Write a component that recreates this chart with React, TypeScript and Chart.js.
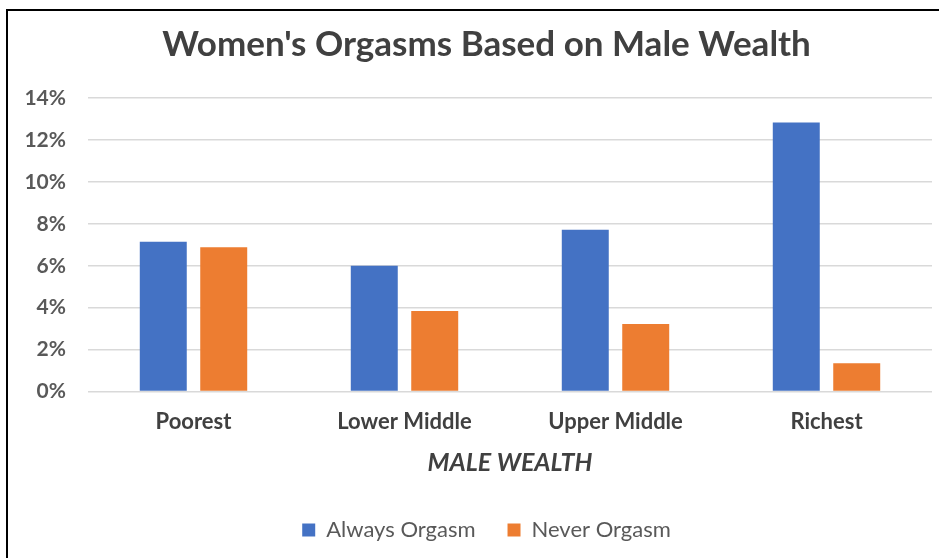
import React, { useEffect, useRef } from "react";
import { Chart, registerables } from "chart.js";

Chart.register(...registerables);

const categories = ["Poorest", "Lower Middle", "Upper Middle", "Richest"];
const alwaysOrgasm = [7.15, 6.0, 7.72, 12.83];
const neverOrgasm = [6.88, 3.84, 3.22, 1.35];
const yTicksMax = 14;
const yTickStep = 2;
const seriesNames = ["Always Orgasm", "Never Orgasm"];
const titleText = "Women's Orgasms Based on Male Wealth";
const xAxisTitle = "MALE WEALTH";

const FONT = "Lato, 'Open Sans', sans-serif";
const CANVAS_W = 973;
const CANVAS_H = 558;

export default function App() {
  const ref = useRef<HTMLCanvasElement | null>(null);

  useEffect(() => {
    if (!ref.current) return;
    const chart = new Chart(ref.current, {
      type: "bar",
      data: {
        labels: categories,
        datasets: [
          {
            label: seriesNames[0],
            data: alwaysOrgasm,
            backgroundColor: "#4472C4",
            borderWidth: 0,
            categoryPercentage: 0.573,
            barPercentage: 0.777,
          },
          {
            label: seriesNames[1],
            data: neverOrgasm,
            backgroundColor: "#ED7D31",
            borderWidth: 0,
            categoryPercentage: 0.573,
            barPercentage: 0.777,
          },
        ],
      },
      options: {
        animation: false,
        responsive: false,
        devicePixelRatio: 1,
        layout: { padding: { left: 0, right: 0, top: 0, bottom: 7 } },
        plugins: {
          title: {
            display: true,
            text: titleText,
            color: "#404040",
            font: { family: FONT, size: 35, weight: "bold" },
            padding: { top: 24, bottom: 32 },
          },
          legend: {
            position: "bottom",
            labels: {
              color: "#595959",
              font: { family: FONT, size: 22 },
              boxWidth: 13,
              boxHeight: 13,
              padding: 32,
            },
          },
          tooltip: { enabled: false },
        },
        scales: {
          x: {
            grid: { display: false },
            border: { display: false },
            ticks: {
              color: "#404040",
              font: { family: FONT, size: 22, weight: "bold" },
              padding: 9,
            },
            title: {
              display: true,
              text: xAxisTitle,
              color: "#404040",
              font: { family: FONT, size: 25, weight: "bold", style: "italic" },
              padding: { top: 4, bottom: 9 },
            },
          },
          y: {
            min: 0,
            max: yTicksMax,
            border: { display: false },
            grid: { color: "#d9d9d9", lineWidth: 1.5, drawTicks: false },
            ticks: {
              stepSize: yTickStep,
              color: "#595959",
              font: { family: FONT, size: 21, weight: "bold" },
              padding: 22,
              callback: (v: any) => `${v}%`,
            },
            afterFit: (scale: any) => {
              scale.width = 88;
            },
          },
          yRightSpacer: {
            type: "linear",
            position: "right",
            display: true,
            grid: { display: false, drawTicks: false },
            border: { display: false },
            ticks: { display: false },
            afterFit: (scale: any) => {
              scale.width = 41;
            },
          },
        },
      },
    });
    return () => chart.destroy();
  }, []);

  return (
    <div
      style={{
        position: "absolute",
        left: 0,
        top: 0,
        width: 939,
        height: 558,
        background: "#fff",
        overflow: "hidden",
      }}
    >
      <canvas
        ref={ref}
        width={CANVAS_W}
        height={CANVAS_H}
        style={{ display: "block", width: CANVAS_W, height: CANVAS_H }}
      />
      <div
        style={{
          position: "absolute",
          left: 6,
          top: 9,
          width: 940,
          height: 560,
          borderTop: "2px solid #000",
          borderLeft: "2px solid #000",
          pointerEvents: "none",
        }}
      />
    </div>
  );
}
